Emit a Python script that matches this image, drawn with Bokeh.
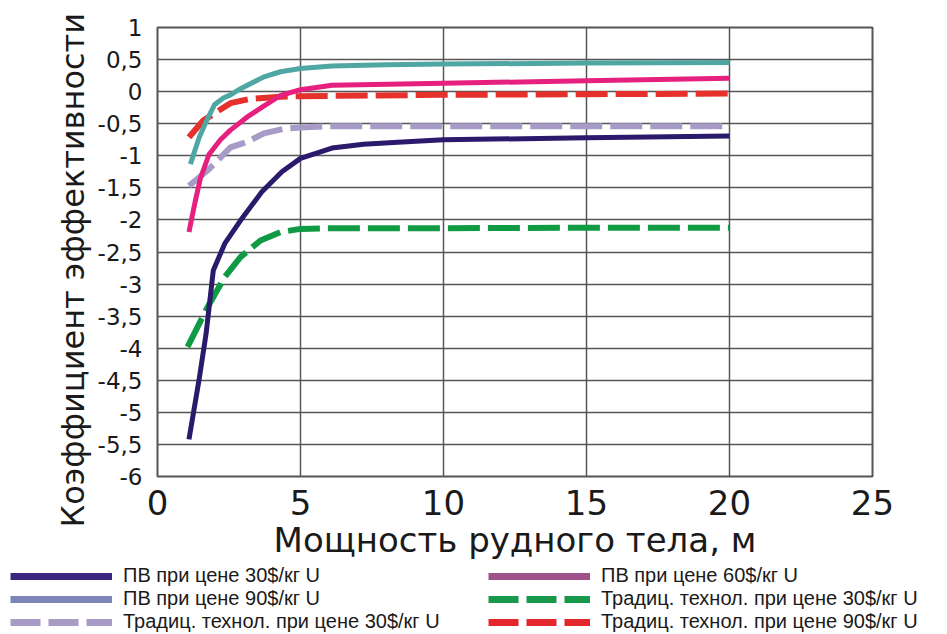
from bokeh.plotting import figure
from bokeh.layouts import column
from bokeh.models import FixedTicker, CustomJSTickFormatter, Legend, LegendItem, Title
from bokeh.embed import file_html
from bokeh.resources import INLINE

# ---- data ----
x_pv30 = [1.1, 1.45, 1.7, 1.95, 2.35, 2.9, 3.65, 4.35, 5.0, 6.1, 7.2, 8.4, 10, 15, 20]
y_pv30 = [-5.42, -4.5, -3.77, -2.79, -2.37, -2.01, -1.56, -1.25, -1.04, -0.88, -0.82, -0.79, -0.75, -0.72, -0.69]

x_pv60 = [1.1, 1.3, 1.5, 1.8, 2.2, 2.55, 3.15, 3.7, 4.3, 5.0, 6.1, 10, 15, 20]
y_pv60 = [-2.19, -1.75, -1.35, -0.98, -0.75, -0.6, -0.39, -0.23, -0.06, 0.03, 0.10, 0.13, 0.17, 0.21]

x_pv90 = [1.15, 1.46, 1.75, 2.0, 2.3, 2.55, 2.92, 3.72, 4.3, 5.0, 6.1, 8, 10, 15, 20]
y_pv90 = [-1.13, -0.71, -0.42, -0.2, -0.1, -0.05, 0.05, 0.23, 0.31, 0.36, 0.40, 0.42, 0.43, 0.445, 0.455]

x_tr30 = [1.05, 1.75, 2.35, 2.9, 3.6, 4.3, 5.0, 6, 10, 15, 20]
y_tr30 = [-3.98, -3.36, -2.89, -2.58, -2.32, -2.19, -2.14, -2.13, -2.13, -2.12, -2.12]

x_tr30b = [1.1, 1.75, 2.55, 3.15, 3.72, 4.4, 5.0, 6, 10, 15, 20]
y_tr30b = [-1.47, -1.23, -0.87, -0.78, -0.65, -0.58, -0.56, -0.54, -0.54, -0.54, -0.54]

x_tr90 = [1.1, 1.6, 2.55, 3.27, 4.3, 5.0, 10, 15, 20]
y_tr90 = [-0.71, -0.45, -0.18, -0.11, -0.08, -0.07, -0.05, -0.04, -0.03]

legend_labels = [
    "ПВ при цене 30$/кг U",
    "ПВ при цене 90$/кг U",
    "Традиц. технол. при цене 30$/кг U",
    "ПВ при цене 60$/кг U",
    "Традиц. технол. при цене 30$/кг U",
    "Традиц. технол. при цене 90$/кг U",
]
legend_colors = ["#3a2680", "#7c84b8", "#a89bc6", "#a0528a", "#17984a", "#e4262d"]
legend_dashes = ["solid", "solid", "30 8", "solid", "30 8", "30 8"]

x_ticks = [0, 5, 10, 15, 20, 25]
y_ticks = [-6, -5.5, -5, -4.5, -4, -3.5, -3, -2.5, -2, -1.5, -1, -0.5, 0, 0.5, 1]

x_title = "Мощность рудного тела, м"
y_title = "Коэффициент эффективности"

# ---- main figure ----
p = figure(width=947, height=564, output_backend="svg", toolbar_location=None,
           x_range=(0, 25), y_range=(-6, 1),
           min_border_left=157, min_border_right=75, min_border_top=27, min_border_bottom=88)
p.background_fill_color = "white"
p.border_fill_color = "white"
p.outline_line_color = "#555555"
p.outline_line_width = 2

p.xgrid.grid_line_color = "#555555"
p.ygrid.grid_line_color = "#555555"
p.xgrid.grid_line_width = 1.5
p.ygrid.grid_line_width = 1.5

p.xaxis.ticker = FixedTicker(ticks=x_ticks)
p.yaxis.ticker = FixedTicker(ticks=y_ticks)
p.yaxis.formatter = CustomJSTickFormatter(code="return tick.toString().replace('.', ',');")

for ax in (p.xaxis, p.yaxis):
    ax.axis_line_color = None
    ax.major_tick_line_color = None
    ax.minor_tick_line_color = None
    ax.major_label_text_font = "DejaVu Sans"
    ax.major_label_text_color = "#1a1a1a"
    ax.axis_label_text_font = "DejaVu Sans"
    ax.axis_label_text_font_style = "normal"
    ax.axis_label_text_color = "#1a1a1a"

p.xaxis.major_label_text_font_size = "34px"
p.xaxis.major_label_standoff = 7
p.xaxis.axis_label = x_title
p.xaxis.axis_label_text_font_size = "34px"
p.xaxis.axis_label_standoff = 2

p.yaxis.major_label_text_font_size = "23px"
p.yaxis.major_label_standoff = 9

# y-axis title placed as a side title so it can sit lower, as in the reference
p.add_layout(Title(text=y_title, align="left", offset=-51, standoff=6,
                   text_font="DejaVu Sans", text_font_size="32px",
                   text_font_style="normal", text_color="#1a1a1a"), "left")

# ---- curves ----
p.line(x_tr30, y_tr30, line_color="#109a44", line_width=6, line_dash="32 8")
p.line(x_tr30b, y_tr30b, line_color="#a79cc8", line_width=6, line_dash="32 8")
p.line(x_tr90, y_tr90, line_color="#e5302b", line_width=6, line_dash="32 8")
p.line(x_pv30, y_pv30, line_color="#2b1a6b", line_width=5)
p.line(x_pv60, y_pv60, line_color="#e5207f", line_width=5)
p.line(x_pv90, y_pv90, line_color="#4fa7a4", line_width=5)

# ---- legend panel (swatches styled as in the reference) ----
lg = figure(width=947, height=70, output_backend="svg", toolbar_location=None,
            x_axis_type=None, y_axis_type=None, x_range=(0, 1), y_range=(0, 1),
            min_border_left=10, min_border_right=0, min_border_top=0, min_border_bottom=0)
if "frame_align" in lg.properties():
    lg.frame_align = False
lg.outline_line_color = None
lg.xgrid.visible = False
lg.ygrid.visible = False
lg.background_fill_color = "white"
lg.border_fill_color = "white"

nan = float("nan")
items = []
for lab, col, dash in zip(legend_labels, legend_colors, legend_dashes):
    r = lg.line([nan, nan], [nan, nan], line_color=col, line_width=7, line_dash=dash)
    items.append(LegendItem(label=lab, renderers=[r]))

legend = Legend(items=items, location="top_left", orientation="vertical", nrows=3,
                glyph_width=102, glyph_height=22, label_height=22, label_width=365,
                label_standoff=11, spacing=0, padding=0, margin=0,
                label_text_font="Liberation Sans", label_text_font_size="20px",
                label_text_color="#1a1a1a", label_text_baseline="middle",
                border_line_color=None, background_fill_alpha=0)
lg.add_layout(legend)

layout = column(p, lg, spacing=0)
open("out.html", "w").write(file_html(layout, INLINE))
